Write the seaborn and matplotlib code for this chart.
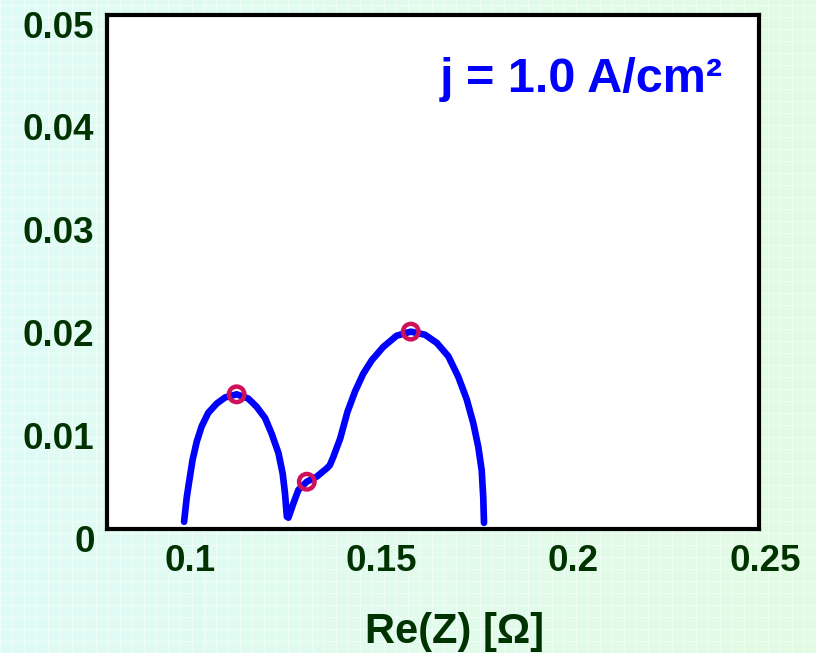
import numpy as np
import pandas as pd
import matplotlib
matplotlib.use("Agg")
import matplotlib.pyplot as plt
import matplotlib.transforms as mtransforms
import seaborn as sns

# ---- data ----
re_z = [0.1001, 0.1008, 0.1015, 0.1023, 0.1034, 0.1047, 0.1064, 0.1086, 0.1108,
        0.1138, 0.1168, 0.1190, 0.1212, 0.1229, 0.1247, 0.1258, 0.1264, 0.1269,
        0.1273, 0.1286, 0.1299, 0.1321, 0.1347, 0.1373, 0.1381, 0.1390, 0.1408,
        0.1427, 0.1447, 0.1468, 0.1490, 0.1520, 0.1555, 0.1592, 0.1629, 0.1660,
        0.1690, 0.1716, 0.1738, 0.1755, 0.1768, 0.1777, 0.1781, 0.1783]
im_z = [0.0007, 0.0031, 0.0048, 0.0067, 0.0085, 0.0100, 0.0113, 0.0122, 0.0128,
        0.0131, 0.0127, 0.0119, 0.0108, 0.0093, 0.0074, 0.0054, 0.0035, 0.0012,
        0.0011, 0.0025, 0.0038, 0.0046, 0.0051, 0.0059, 0.0062, 0.0070, 0.0088,
        0.0114, 0.0134, 0.0151, 0.0164, 0.0177, 0.0188, 0.0192, 0.0189, 0.0181,
        0.0168, 0.0148, 0.0126, 0.0103, 0.0080, 0.0057, 0.0031, 0.0006]
marker_re = [0.1138, 0.1321, 0.1592]
marker_im = [0.0131, 0.0046, 0.0192]
x_ticks = [0.1, 0.15, 0.2, 0.25]
x_ticklabels = ["0.1", "0.15", "0.2", "0.25"]
y_ticks = [0, 0.01, 0.02, 0.03, 0.04, 0.05]
y_ticklabels = ["0", "0.01", "0.02", "0.03", "0.04", "0.05"]
annotation = "j = 1.0 A/cm²"
x_label = "Re(Z) [Ω]"

sns.set_theme(style="white")
plt.rcParams["font.family"] = ["Liberation Sans", "DejaVu Sans"]

W, H = 816, 653
fig = plt.figure(figsize=(W / 100, H / 100), dpi=100)

# background decoration (slide backdrop)
bg = fig.add_axes([0, 0, 1, 1], zorder=-10)
c1 = np.array([0xdf, 0xfb, 0xf6]) / 255
c2 = np.array([0xe3, 0xfc, 0xe4]) / 255
t = np.linspace(0, 1, 200)
grad = np.array([c1 * (1 - v) + c2 * v for v in t])[None, :, :]
grad = np.repeat(grad, 2, axis=0)
bg.imshow(grad, aspect="auto", extent=[0, 1, 0, 1], origin="lower")
for gx in np.arange(0, 1, 12 / W):
    bg.axvline(gx, color="white", lw=0.6, alpha=0.6)
for gy in np.arange(0, 1, 12 / H):
    bg.axhline(gy, color="white", lw=0.6, alpha=0.6)
bg.set_xlim(0, 1)
bg.set_ylim(0, 1)
bg.axis("off")

ax = fig.add_axes([107 / W, 1 - 529 / H, (759 - 107) / W, (529 - 15) / H])
ax.set_facecolor("white")

df = pd.DataFrame({"re": re_z, "im": im_z})
sns.lineplot(data=df, x="re", y="im", sort=False, estimator=None, ax=ax,
             color="#0000ff", lw=4.8, solid_capstyle="round",
             solid_joinstyle="round", zorder=3)
mk = pd.DataFrame({"re": marker_re, "im": marker_im})
sns.scatterplot(data=mk, x="re", y="im", ax=ax, s=125, facecolor="none",
                edgecolor="#d0105a", linewidth=3.2, zorder=4)

ax.set_xlim(0.08, 0.25)
ax.set_ylim(0, 0.05)
ax.set_xticks(x_ticks)
ax.set_xticklabels(x_ticklabels)
ax.set_yticks(y_ticks)
ax.set_yticklabels(y_ticklabels)

green = "#003300"
ax.tick_params(axis="both", direction="in", length=7, width=2.2, color="black",
               labelcolor=green, labelsize=26.5)
ax.tick_params(axis="x", pad=11)
ax.tick_params(axis="y", pad=9)
for lab in ax.get_xticklabels() + ax.get_yticklabels():
    lab.set_fontweight("bold")
for lab in ax.get_xticklabels():
    lab.set_transform(lab.get_transform() +
                      mtransforms.ScaledTranslation(6 / 100, 0, fig.dpi_scale_trans))
for lab in ax.get_yticklabels():
    lab.set_transform(lab.get_transform() +
                      mtransforms.ScaledTranslation(0, -9 / 100, fig.dpi_scale_trans))

for sp in ax.spines.values():
    sp.set_visible(True)
    sp.set_color("black")
    sp.set_linewidth(3.0)

ax.set_xlabel(x_label, fontsize=30, fontweight="bold", color=green)
ax.set_ylabel("")
ax.xaxis.set_label_coords((455 - 107) / 652, (529 - 643) / 514)
ax.xaxis.label.set_va("baseline")

ax.text((440 - 107) / 652, (529 - 92) / 514, annotation, transform=ax.transAxes,
        ha="left", va="baseline", fontsize=35, fontweight="bold", color="#0000ff")

fig.savefig("out.png", dpi=100, facecolor=fig.get_facecolor())
